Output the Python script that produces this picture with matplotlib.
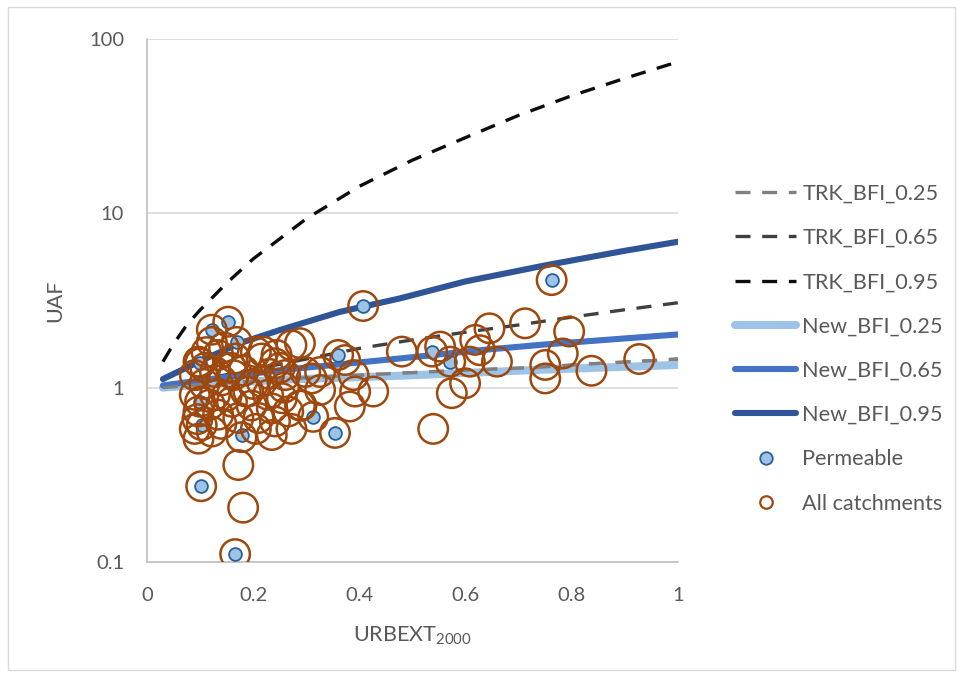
import matplotlib
matplotlib.use("Agg")
import matplotlib.pyplot as plt
from matplotlib.lines import Line2D
from matplotlib.patches import Rectangle
import numpy as np

plt.rcParams['font.family'] = ['Lato', 'DejaVu Sans']
plt.rcParams['mathtext.fontset'] = 'custom'
plt.rcParams['mathtext.rm'] = 'Lato'
plt.rcParams['mathtext.it'] = 'Lato'

# ---- curves ----
trk95_x = [0.03, 0.05, 0.075, 0.1, 0.15, 0.2, 0.3, 0.4, 0.5, 0.6, 0.7, 0.8, 0.9, 1.0]
trk95_y = [1.41, 1.78, 2.29, 2.79, 3.98, 5.48, 9.31, 14.3, 20.2, 27.2, 36.5, 47.3, 59.5, 74.0]

trk65_x = [0.03, 0.1, 0.2, 0.3, 0.4, 0.5, 0.6, 0.7, 0.8, 0.9, 1.0]
trk65_y = [1.03, 1.11, 1.27, 1.46, 1.68, 1.88, 2.08, 2.29, 2.54, 2.80, 3.07]

trk25_x = [0.03, 0.1, 0.2, 0.3, 0.476, 0.6, 0.721, 0.837, 0.953, 1.0]
trk25_y = [1.00, 1.04, 1.09, 1.14, 1.21, 1.26, 1.30, 1.37, 1.43, 1.46]

new95_x = [0.03, 0.1, 0.175, 0.25, 0.363, 0.476, 0.6, 0.753, 0.9, 1.0]
new95_y = [1.12, 1.42, 1.80, 2.14, 2.72, 3.25, 4.07, 5.05, 6.10, 6.87]

new65_x = [0.03, 0.1, 0.25, 0.476, 0.627, 0.75, 1.0]
new65_y = [1.03, 1.10, 1.26, 1.47, 1.64, 1.77, 2.02]

new25_x = [0.03, 0.1, 0.25, 0.476, 0.75, 1.0]
new25_y = [1.00, 1.04, 1.11, 1.17, 1.27, 1.35]

# ---- scatter points ----
perm_x = [0.102, 0.166, 0.153, 0.122, 0.169, 0.407, 0.360, 0.313, 0.354, 0.537,
          0.571, 0.762, 0.178, 0.103, 0.100, 0.100]
perm_y = [0.272, 0.111, 2.39, 2.15, 1.83, 2.94, 1.54, 0.68, 0.55, 1.61,
          1.41, 4.14, 0.535, 0.61, 0.83, 1.38]

all_x = [0.102, 0.166, 0.153, 0.122, 0.169, 0.407, 0.360, 0.313, 0.354, 0.537,
         0.571, 0.762, 0.178, 0.103, 0.100, 0.100,
         0.122, 0.097, 0.134, 0.166, 0.090, 0.128, 0.163, 0.216, 0.241, 0.272,
         0.260, 0.298, 0.216, 0.191, 0.228, 0.254, 0.090, 0.128, 0.160, 0.197,
         0.235, 0.266, 0.097, 0.134, 0.172, 0.210, 0.241, 0.090, 0.122, 0.097,
         0.235, 0.272, 0.172, 0.291, 0.219, 0.244, 0.181,
         0.326, 0.389, 0.392, 0.426, 0.382, 0.373, 0.480, 0.618, 0.627, 0.645,
         0.608, 0.659, 0.599, 0.574, 0.539, 0.712, 0.795, 0.783, 0.750, 0.750,
         0.837, 0.927, 0.310, 0.326, 0.288, 0.288, 0.552,
         0.110, 0.140, 0.150, 0.118, 0.182, 0.200, 0.230, 0.258, 0.145, 0.112,
         0.186, 0.205, 0.140, 0.108, 0.158, 0.095, 0.250, 0.205]
all_y = [0.272, 0.111, 2.39, 2.15, 1.83, 2.94, 1.54, 0.68, 0.55, 1.61,
         1.41, 4.14, 0.52, 0.61, 0.83, 1.38,
         1.83, 1.41, 1.54, 1.47, 1.18, 1.23, 1.18, 1.47, 1.38, 1.75,
         1.18, 1.23, 1.08, 0.95, 0.91, 0.87, 0.91, 0.91, 0.83, 0.79,
         0.76, 0.73, 0.73, 0.70, 0.67, 0.67, 0.64, 0.58, 0.56, 0.51,
         0.535, 0.58, 0.36, 0.79, 1.61, 1.54, 0.205,
         1.23, 1.18, 0.95, 0.95, 0.78, 1.44, 1.61, 1.88, 1.64, 2.19,
         1.41, 1.41, 1.06, 0.93, 0.58, 2.34, 2.10, 1.57, 1.35, 1.13,
         1.25, 1.46, 1.13, 0.97, 1.80, 0.79, 1.72,
         1.30, 1.10, 0.90, 0.80, 1.25, 1.05, 1.20, 1.00, 1.70, 1.60,
         0.95, 0.58, 0.62, 1.05, 1.30, 0.66, 1.30, 1.60]

labels = ['TRK_BFI_0.25', 'TRK_BFI_0.65', 'TRK_BFI_0.95',
          'New_BFI_0.25', 'New_BFI_0.65', 'New_BFI_0.95',
          'Permeable', 'All catchments']

W, H = 961, 674
fig = plt.figure(figsize=(W / 100, H / 100), dpi=100)
fig.patches.append(Rectangle((8 / W, 4 / H), (W - 14) / W, (H - 11) / H,
                             transform=fig.transFigure, fill=False,
                             edgecolor='#D9D9D9', linewidth=1.0))
ax = fig.add_axes([147 / W, 1 - 562 / H, (678 - 147) / W, (562 - 39) / H])

ax.set_yscale('log')
ax.set_xlim(0, 1)
ax.set_ylim(0.1, 100)
ax.set_yticks([0.1, 1, 10, 100])
ax.set_yticklabels(['0.1', '1', '10', '100'])
ax.yaxis.set_minor_locator(matplotlib.ticker.NullLocator())
ax.set_xticks([0, 0.2, 0.4, 0.6, 0.8, 1.0])
ax.set_xticklabels(['0', '0.2', '0.4', '0.6', '0.8', '1'])
ax.tick_params(length=0, labelsize=14.5, colors='#595959')
ax.tick_params(axis='y', pad=16.5)
ax.tick_params(axis='x', pad=18)
ax.grid(axis='y', color='#D9D9D9', linewidth=1.2)
ax.set_axisbelow(True)
for s in ['top', 'right']:
    ax.spines[s].set_visible(False)
for s in ['left', 'bottom']:
    ax.spines[s].set_color('#BFBFBF')
    ax.spines[s].set_linewidth(1.2)

dash = (4.5, 3.5)
l1, = ax.plot(trk25_x, trk25_y, color='#808080', lw=2.4, dashes=dash, label=labels[0])
l2, = ax.plot(trk65_x, trk65_y, color='#404040', lw=2.4, dashes=dash, label=labels[1])
l3, = ax.plot(trk95_x, trk95_y, color='#0D0D0D', lw=2.4, dashes=dash, label=labels[2])
l4, = ax.plot(new25_x, new25_y, color='#9DC3E6', lw=5.8, solid_capstyle='round', label=labels[3])
l5, = ax.plot(new65_x, new65_y, color='#4472C4', lw=4.4, solid_capstyle='round', label=labels[4])
l6, = ax.plot(new95_x, new95_y, color='#2F5597', lw=4.4, solid_capstyle='round', label=labels[5])
ax.plot(trk25_x, trk25_y, color='#808080', lw=2.4, dashes=dash, zorder=2.5)

ax.scatter(perm_x, perm_y, s=85, facecolor='#9DC3E6', edgecolor='#2A6099',
           linewidth=1.3, zorder=3)
ax.scatter(all_x, all_y, s=450, facecolor='none', edgecolor='#9E480E',
           linewidth=1.8, zorder=4)

ax.set_ylabel('UAF', fontsize=15.5, color='#595959')
ax.yaxis.set_label_coords(-0.154, 0.5)
ax.set_xlabel(r'URBEXT$_{\mathrm{2000}}$', fontsize=15.5, color='#595959')
ax.xaxis.set_label_coords(0.5, -0.12)

h_perm = Line2D([], [], ls='none', marker='o', markersize=9,
                markerfacecolor='#9DC3E6', markeredgecolor='#2A6099', markeredgewidth=1.3)
h_all = Line2D([], [], ls='none', marker='o', markersize=9,
               markerfacecolor='none', markeredgecolor='#9E480E', markeredgewidth=1.6)
handles = [l1, l2, l3, l4, l5, l6, h_perm, h_all]
fig.legend(handles, labels, loc='upper left', bbox_to_anchor=(726 / W, 1 - 175 / H),
           frameon=False, fontsize=15.6, labelcolor='#595959', handlelength=2.85,
           handletextpad=0.28, labelspacing=1.12, borderaxespad=0)

fig.savefig('out.png', dpi=100)
